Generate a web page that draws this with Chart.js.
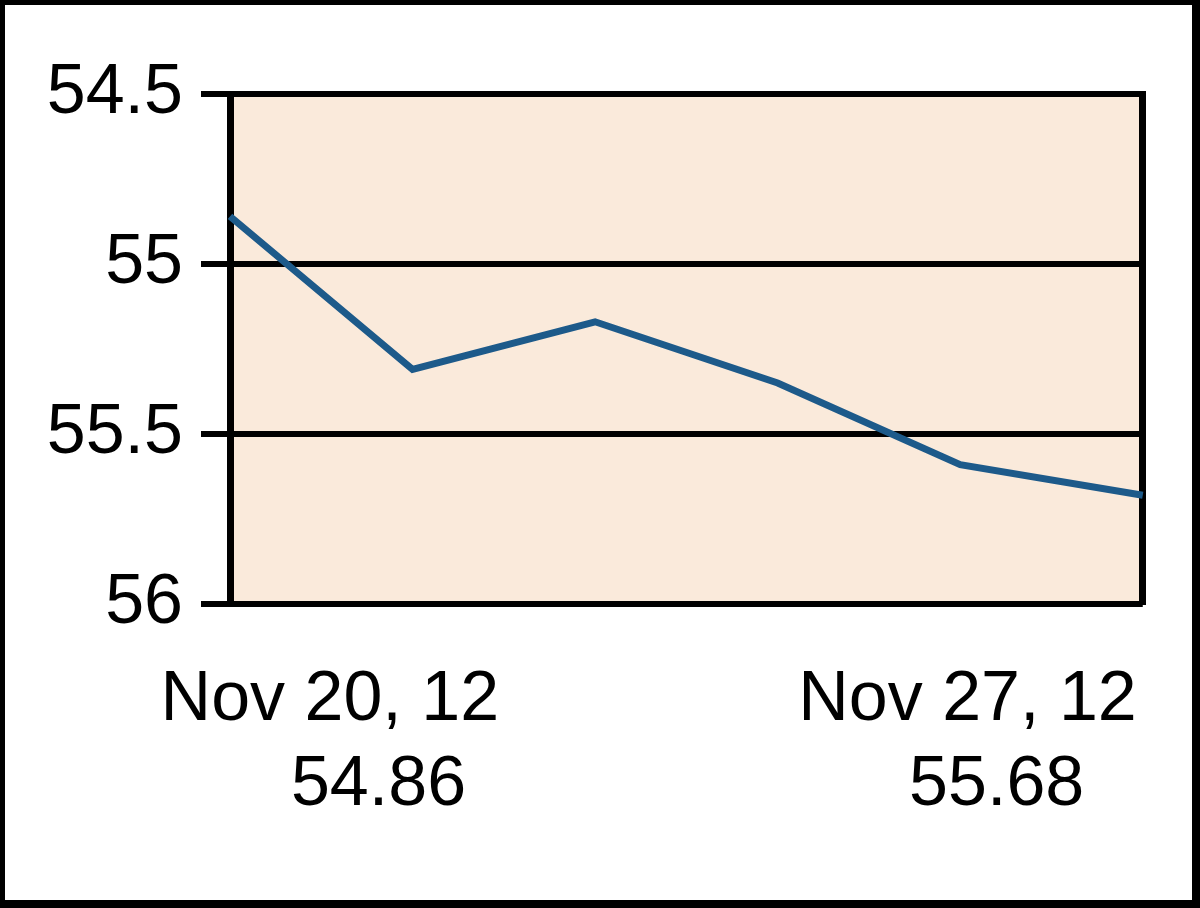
<!DOCTYPE html>
<html>
<head>
<meta charset="utf-8">
<script src="https://cdn.jsdelivr.net/npm/chart.js@4/dist/chart.umd.min.js"></script>
<style>
  html, body { margin: 0; padding: 0; background: #fff; }
  #wrap { position: relative; width: 1200px; height: 908px; overflow: hidden; }
  #frame { position: absolute; left: 0; top: 0; width: 1200px; height: 908px; box-sizing: border-box;
           border-style: solid; border-color: #000; border-width: 5px 8px 8px 5px; pointer-events: none; }
  canvas { position: absolute; left: 0; top: 0; }
</style>
</head>
<body>
<div id="wrap">
  <canvas id="c" width="1200" height="908"></canvas>
  <div id="frame"></div>
</div>
<script>
// ---- data ----
const categories = ['Nov 20', 'Nov 21', 'Nov 22', 'Nov 23', 'Nov 26', 'Nov 27'];
const values = [54.86, 55.31, 55.17, 55.35, 55.59, 55.68];
const yTickValues = [54.5, 55, 55.5, 56];
const yTickLabels = ['54.5', '55', '55.5', '56'];
const xTickDates = ['Nov 20, 12', 'Nov 27, 12'];
const xTickValues = ['54.86', '55.68'];

// ---- layout / style ----
const FONT = { family: "'Liberation Sans', Arial, sans-serif", size: 70, lineHeight: 1.22 };
const xTickPos = [0.547, 4.04];       // label placement along the category axis
const secondLineShift = [5, 3];       // leading spaces to offset the value line

const bgPlugin = {
  id: 'plotBg',
  beforeDraw(chart) {
    const { ctx, chartArea: a } = chart;
    ctx.save();
    ctx.fillStyle = '#FAEADB';
    ctx.fillRect(a.left, a.top, a.right - a.left, a.bottom - a.top);
    ctx.restore();
  }
};

new Chart(document.getElementById('c'), {
  type: 'line',
  data: {
    labels: categories,
    datasets: [{
      data: values,
      borderColor: '#1D5A8A',
      borderWidth: 7,
      pointRadius: 0,
      tension: 0,
      fill: false
    }]
  },
  options: {
    responsive: false,
    animation: false,
    devicePixelRatio: 1,
    layout: { padding: { left: 0, top: 94, right: 48, bottom: 0 } },
    plugins: { legend: { display: false }, tooltip: { enabled: false } },
    scales: {
      x: {
        type: 'category',
        grid: { display: false, drawTicks: false },
        border: { display: false },
        afterBuildTicks: s => { s.ticks = xTickPos.map(v => ({ value: v })); },
        afterFit: s => { s.height = 908 - 604; },
        ticks: {
          autoSkip: false, maxRotation: 0, minRotation: 0,
          padding: 54,
          color: '#000',
          font: FONT,
          callback: (v, i) => [xTickDates[i], ' '.repeat(secondLineShift[i]) + xTickValues[i]]
        }
      },
      y: {
        reverse: true,
        min: 54.5, max: 56,
        afterBuildTicks: s => { s.ticks = yTickValues.map(v => ({ value: v })); },
        afterFit: s => { s.width = 230; },
        ticks: {
          padding: 18,
          color: '#000',
          font: FONT,
          callback: (v, i) => yTickLabels[i]
        },
        grid: { color: '#000', lineWidth: 6, tickLength: 29, tickWidth: 6, tickColor: '#000' },
        border: { color: '#000', width: 7 }
      },
      y2: {
        position: 'right',
        grid: { display: false, drawTicks: false },
        ticks: { display: false },
        border: { color: '#000', width: 7 },
        afterFit: s => { s.width = 0; }
      }
    }
  },
  plugins: [bgPlugin]
});
</script>
</body>
</html>
